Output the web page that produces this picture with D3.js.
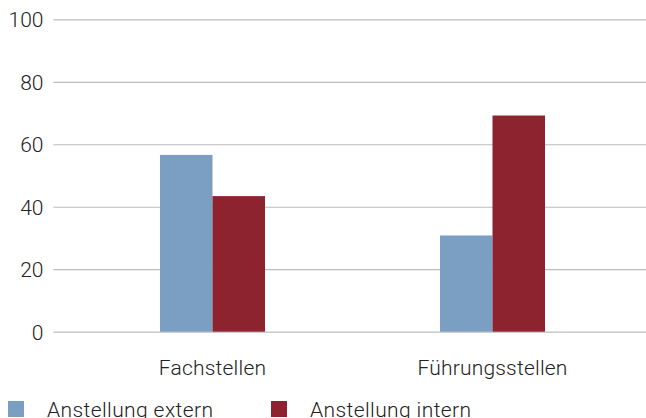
<!DOCTYPE html>
<html>
<head>
<meta charset="utf-8">
<script src="https://cdn.jsdelivr.net/npm/d3@7"></script>
<style>
  html, body { margin: 0; padding: 0; background: #fff; }
  svg { display: block; }
  text { font-family: Roboto, "Helvetica Neue", Arial, sans-serif; font-weight: 300; fill: #222; }
</style>
</head>
<body>
<svg id="chart" width="646" height="418"></svg>
<script>
const categories = ["Fachstellen", "Führungsstellen"];
const seriesNames = ["Anstellung extern", "Anstellung intern"];
const externValues = [56.6, 30.8];
const internValues = [43.4, 69.2];
const yTicks = [0, 20, 40, 60, 80, 100];
const colors = ["#7a9fc3", "#8c232e"];

const seriesValues = [externValues, internValues];
const svg = d3.select("#chart");

const y = d3.scaleLinear().domain([0, 100]).range([331.7, 19.3]);
const x0 = d3.scaleBand().domain(categories).range([72.5, 632.5])
  .paddingInner(0.625).paddingOuter(0.3125);
const x1 = d3.scaleBand().domain(seriesNames).range([0, x0.bandwidth()]);

// gridlines
const yAxis = d3.axisLeft(y).tickValues(yTicks).tickSize(-(646 - 53.5)).tickPadding(10);
const gy = svg.append("g").attr("transform", "translate(53.5,0)").call(yAxis);
gy.select(".domain").remove();
gy.selectAll(".tick line").attr("stroke", "#bdbdbd").attr("stroke-width", 1.2);
gy.selectAll(".tick text").attr("font-size", 21).attr("fill", "#222")
  .style("font-family", "Roboto, Arial, sans-serif").style("font-weight", 300)
  .attr("x", -10).attr("dy", "0.36em");

// bars
const groups = svg.append("g").selectAll("g").data(categories).join("g")
  .attr("transform", d => `translate(${x0(d)},0)`);
groups.selectAll("rect")
  .data((c, ci) => seriesNames.map((s, si) => ({ s, si, v: seriesValues[si][ci] })))
  .join("rect")
  .attr("x", d => x1(d.s))
  .attr("width", x1.bandwidth())
  .attr("y", d => y(d.v))
  .attr("height", d => y(0) - y(d.v))
  .attr("fill", d => colors[d.si]);

// category labels
const xAxis = d3.axisBottom(x0).tickSize(0).tickPadding(0);
const gx = svg.append("g").attr("transform", "translate(0,360)").call(xAxis);
gx.select(".domain").remove();
gx.selectAll(".tick text").attr("font-size", 21).attr("fill", "#222")
  .style("font-family", "Roboto, Arial, sans-serif").style("font-weight", 300)
  .style("letter-spacing", "0.2px")
  .attr("dy", "0.72em");

// legend
const legendX = [8, 271];
const leg = svg.append("g").selectAll("g").data(seriesNames).join("g")
  .attr("transform", (d, i) => `translate(${legendX[i]},401)`);
leg.append("rect").attr("width", 16).attr("height", 16).attr("fill", (d, i) => colors[i]);
leg.append("text").attr("x", 39).attr("y", 15.5).attr("font-size", 21)
  .style("letter-spacing", "0.4px").text(d => d);
</script>
</body>
</html>
